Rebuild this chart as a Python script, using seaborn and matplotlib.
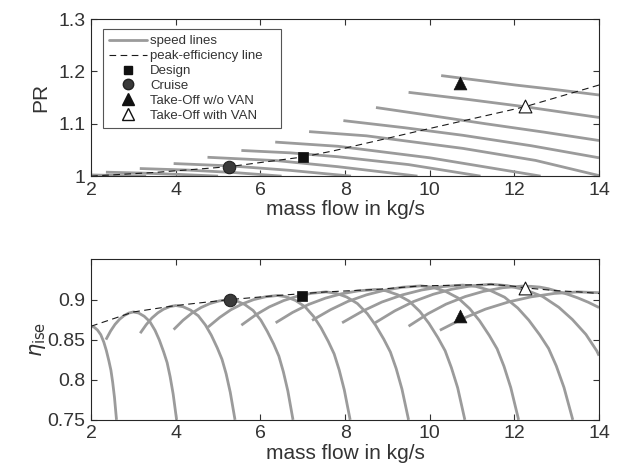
import matplotlib
matplotlib.use("Agg")
import matplotlib.pyplot as plt
import pandas as pd
import seaborn as sns
from matplotlib.lines import Line2D

# ---- compressor map: speed lines, PR over mass flow (kg/s) ----
pr_mass = [
    [1.55, 2.3, 3.3],
    [2.35, 3.2, 4.1, 5.0],
    [3.15, 4.3, 5.4, 6.5],
    [3.95, 5.3, 6.7, 8.14],
    [4.75, 6.4, 7.83, 9.71],
    [5.55, 6.7, 7.83, 9.5, 11.2],
    [6.35, 7.83, 10.0, 12.62],
    [7.15, 8.5, 10.78, 12.5, 14.0],
    [7.96, 9.4, 10.78, 12.4, 14.0],
    [8.73, 10.0, 11.32, 12.7, 14.0],
    [9.5, 10.9, 12.25, 14.0],
    [10.27, 11.1, 12.02, 13.0, 14.0],
]
pr_value = [
    [1.003, 1.0017, 1.0],
    [1.0075, 1.0058, 1.0032, 1.0],
    [1.0145, 1.0115, 1.0067, 1.0],
    [1.024, 1.0195, 1.011, 1.0],
    [1.036, 1.0295, 1.018, 1.0],
    [1.049, 1.0445, 1.037, 1.022, 1.0],
    [1.065, 1.057, 1.035, 1.0],
    [1.085, 1.077, 1.053, 1.03, 1.001],
    [1.106, 1.0925, 1.078, 1.058, 1.035],
    [1.131, 1.116, 1.10, 1.084, 1.068],
    [1.160, 1.1465, 1.1325, 1.112],
    [1.192, 1.1835, 1.174, 1.165, 1.155],
]

# ---- speed lines, isentropic efficiency over mass flow ----
eta_mass = [
    [2.0, 2.072, 2.15, 2.228, 2.3, 2.36, 2.42, 2.468, 2.51, 2.552, 2.6],
    [2.35, 2.46, 2.565, 2.675, 2.78, 2.89, 3.0, 3.122, 3.255, 3.388, 3.51, 3.612,
     3.714, 3.796, 3.867, 3.938, 4.02],
    [3.16, 3.303, 3.437, 3.58, 3.714, 3.857, 4.0, 4.168, 4.35, 4.532, 4.7, 4.84,
     4.98, 5.092, 5.19, 5.288, 5.4],
    [3.95, 4.171, 4.379, 4.6, 4.808, 5.029, 5.25, 5.432, 5.63, 5.828, 6.01, 6.162,
     6.314, 6.436, 6.542, 6.648, 6.77],
    [4.76, 5.039, 5.301, 5.58, 5.842, 6.121, 6.4, 6.606, 6.83, 7.054, 7.26, 7.432,
     7.604, 7.742, 7.862, 7.982, 8.12],
    [5.55, 5.89, 6.21, 6.55, 6.87, 7.21, 7.55, 7.784, 8.038, 8.291, 8.525, 8.72,
     8.915, 9.071, 9.208, 9.344, 9.5],
    [6.36, 6.76, 7.136, 7.535, 7.911, 8.311, 8.71, 8.964, 9.24, 9.516, 9.77, 9.982,
     10.194, 10.364, 10.512, 10.66, 10.83],
    [7.22, 7.657, 8.068, 8.505, 8.916, 9.353, 9.79, 10.067, 10.368, 10.668, 10.945,
     11.176, 11.407, 11.592, 11.754, 11.915, 12.1],
    [7.93, 8.415, 8.871, 9.355, 9.811, 10.296, 10.78, 11.092, 11.43, 11.768, 12.08,
     12.34, 12.6, 12.808, 12.99, 13.172, 13.38],
    [8.71, 9.176, 9.614, 10.08, 10.518, 10.984, 11.45, 11.834, 12.25, 12.666, 13.05,
     13.37, 13.69, 13.946, 14.0],
    [9.5, 9.956, 10.384, 10.84, 11.269, 11.724, 12.18, 12.4, 12.6, 12.8, 13.0, 13.25,
     13.5, 13.75, 14.0],
    [10.24, 10.794, 11.316, 11.87, 12.392, 12.946, 13.5, 14.0],
]
eta_value = [
    [0.8667, 0.8655, 0.862, 0.8562, 0.8469, 0.8364, 0.8235, 0.8119, 0.7967, 0.778, 0.75],
    [0.850, 0.8607, 0.869, 0.8755, 0.880, 0.8831, 0.8845, 0.8832, 0.8791, 0.8724,
     0.8616, 0.8495, 0.8347, 0.8213, 0.8038, 0.7823, 0.75],
    [0.858, 0.8687, 0.877, 0.8835, 0.888, 0.8911, 0.8925, 0.8911, 0.8868, 0.8797,
     0.8683, 0.8555, 0.8398, 0.8255, 0.8074, 0.7842, 0.75],
    [0.8625, 0.8741, 0.883, 0.8901, 0.895, 0.8983, 0.8998, 0.8983, 0.8938, 0.8863,
     0.8743, 0.8603, 0.8444, 0.8294, 0.8099, 0.786, 0.75],
    [0.8655, 0.8777, 0.8872, 0.8947, 0.8999, 0.9034, 0.905, 0.9035, 0.8988, 0.891,
     0.8787, 0.8647, 0.8477, 0.8322, 0.812, 0.7872, 0.75],
    [0.868, 0.8809, 0.8908, 0.8987, 0.9041, 0.9078, 0.9095, 0.9079, 0.9031, 0.895,
     0.8824, 0.868, 0.8505, 0.8345, 0.8138, 0.7883, 0.75],
    [0.871, 0.8839, 0.8938, 0.9017, 0.9071, 0.9108, 0.9125, 0.9109, 0.906, 0.8979,
     0.8849, 0.8702, 0.8524, 0.8361, 0.815, 0.79, 0.75],
    [0.874, 0.8873, 0.8977, 0.9058, 0.9114, 0.9153, 0.917, 0.9153, 0.9103, 0.902,
     0.8886, 0.8736, 0.8552, 0.8385, 0.8168, 0.7901, 0.75],
    [0.871, 0.8856, 0.8969, 0.9058, 0.9119, 0.9161, 0.918, 0.9163, 0.9113, 0.9029,
     0.8894, 0.8743, 0.8558, 0.839, 0.8172, 0.7903, 0.75],
    [0.871, 0.8859, 0.8974, 0.9065, 0.9128, 0.9171, 0.919, 0.9173, 0.9122, 0.9038,
     0.8903, 0.8751, 0.8565, 0.836, 0.83],
    [0.8667, 0.8822, 0.8942, 0.9037, 0.9102, 0.9147, 0.9167, 0.9164, 0.9155, 0.9135,
     0.9105, 0.9067, 0.902, 0.8965, 0.89],
    [0.8617, 0.8765, 0.888, 0.8971, 0.9033, 0.9076, 0.9095, 0.9085],
]

# ---- peak-efficiency line ----
peak_pr_mass = [2.0, 3.5, 5.25, 7.0, 7.71, 10.0, 12.25, 14.0]
peak_pr_value = [1.0, 1.007, 1.018, 1.0365, 1.048, 1.091, 1.1325, 1.174]
peak_eta_mass = [2.0, 3.0, 4.0, 5.25, 6.4, 7.55, 8.71, 9.79, 10.78, 11.45,
                 12.0, 12.25, 13.0, 13.5, 14.0]
peak_eta_value = [0.8667, 0.8845, 0.8925, 0.8998, 0.905, 0.9095, 0.9125, 0.917,
                  0.918, 0.919, 0.9165, 0.9145, 0.911, 0.9096, 0.9075]

# ---- operating points: design, cruise, take-off w/o VAN, take-off with VAN ----
op_mass_pr = [7.0, 5.25, 10.71, 12.25]
op_pr = [1.036, 1.018, 1.178, 1.134]
op_mass_eta = [6.98, 5.27, 10.71, 12.25]
op_eta = [0.905, 0.8996, 0.880, 0.9145]


def long_table(masses, values):
    rows = []
    for i, (ms, vs) in enumerate(zip(masses, values)):
        for m, v in zip(ms, vs):
            rows.append({"speed": i, "mass": m, "value": v})
    return pd.DataFrame(rows)


sns.set_theme(style="ticks")
plt.rcParams["font.family"] = ["Liberation Sans", "DejaVu Sans"]
plt.rcParams["mathtext.fontset"] = "dejavusans"

TXT = "#333333"
GRAY = "#9b9b9b"
FS = 14
LFS = 15

fig = plt.figure(figsize=(6.24, 4.76), dpi=100)
ax1 = fig.add_axes([0.146, 0.630, 0.814, 0.330])
ax2 = fig.add_axes([0.146, 0.118, 0.814, 0.337])


def draw(ax, masses, values, pm, pv, om, ov):
    sns.lineplot(data=long_table(masses, values), x="mass", y="value", units="speed",
                 estimator=None, sort=False, color=GRAY, lw=2.0, ax=ax, legend=False,
                 solid_joinstyle="round", solid_capstyle="butt")
    sns.lineplot(x=pm, y=pv, sort=False, color="k", lw=0.8,
                 linestyle=(0, (6, 4)), ax=ax, legend=False)
    sns.scatterplot(x=[om[0]], y=[ov[0]], marker="s", s=55, color="#111111",
                    edgecolor="#111111", linewidth=0.5, ax=ax, zorder=5)
    sns.scatterplot(x=[om[1]], y=[ov[1]], marker="o", s=80, color="#3a3a3a",
                    edgecolor="#222222", linewidth=0.8, ax=ax, zorder=5)
    sns.scatterplot(x=[om[2]], y=[ov[2]], marker="^", s=85, color="#111111",
                    edgecolor="#111111", linewidth=0.5, ax=ax, zorder=5)
    sns.scatterplot(x=[om[3]], y=[ov[3]], marker="^", s=85, color="white",
                    edgecolor="#111111", linewidth=0.8, ax=ax, zorder=5)
    ax.set_xlim(2, 14)
    ax.set_xticks([2, 4, 6, 8, 10, 12, 14])
    ax.set_xlabel("mass flow in kg/s", fontsize=LFS, color=TXT, labelpad=1)
    ax.tick_params(direction="in", top=True, right=True, length=4, width=0.8,
                   labelsize=FS, colors=TXT, pad=4)
    for sp in ax.spines.values():
        sp.set_color("#262626")
        sp.set_linewidth(0.8)


draw(ax1, pr_mass, pr_value, peak_pr_mass, peak_pr_value, op_mass_pr, op_pr)
ax1.set_ylim(1.0, 1.3)
ax1.set_yticks([1.0, 1.1, 1.2, 1.3])
ax1.set_yticklabels(["1", "1.1", "1.2", "1.3"])
ax1.set_ylabel("PR", fontsize=LFS, color=TXT, labelpad=6)

draw(ax2, eta_mass, eta_value, peak_eta_mass, peak_eta_value, op_mass_eta, op_eta)
ax2.set_ylim(0.75, 0.95)
ax2.set_yticks([0.75, 0.8, 0.85, 0.9])
ax2.set_yticklabels(["0.75", "0.8", "0.85", "0.9"])
ax2.set_ylabel(r"$\eta_{\rm ise}$", fontsize=LFS, color=TXT, labelpad=0)

handles = [
    Line2D([], [], color=GRAY, lw=2.0),
    Line2D([], [], color="k", lw=0.8, linestyle=(0, (6, 4))),
    Line2D([], [], ls="none", marker="s", ms=6, color="#111111"),
    Line2D([], [], ls="none", marker="o", ms=7.5, color="#3a3a3a", mec="#222222"),
    Line2D([], [], ls="none", marker="^", ms=8, color="#111111"),
    Line2D([], [], ls="none", marker="^", ms=8, mfc="white", mec="#111111"),
]
labels = ["speed lines", "peak-efficiency line", "Design", "Cruise",
          "Take-Off w/o VAN", "Take-Off with VAN"]
leg = ax1.legend(handles, labels, loc="upper left",
                 bbox_to_anchor=(0.023, 0.1, 0.35, 0.835), mode="expand",
                 fontsize=9.5, frameon=True, fancybox=False, framealpha=1,
                 edgecolor="#555555", handlelength=2.9, handletextpad=0.25,
                 labelspacing=0.2, borderpad=0.45, borderaxespad=0)
leg.get_frame().set_linewidth(0.8)
for t in leg.get_texts():
    t.set_color(TXT)

fig.savefig("out.png", dpi=100)
